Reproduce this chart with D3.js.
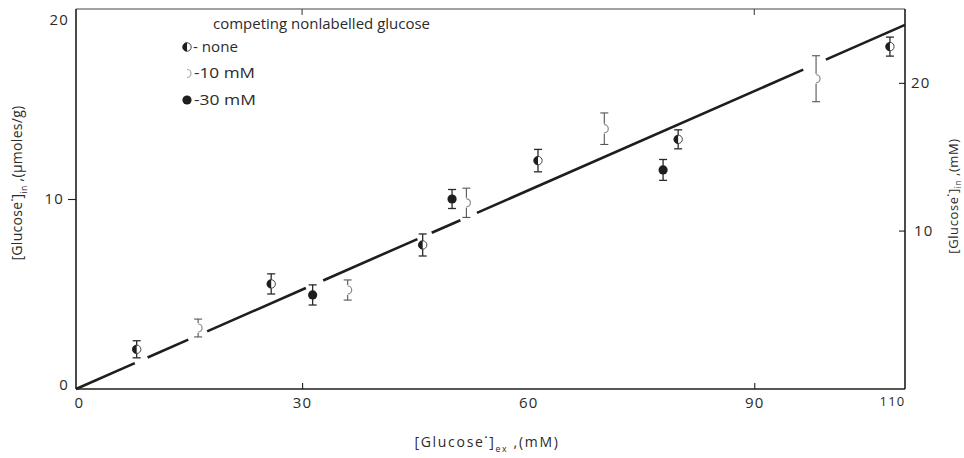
<!DOCTYPE html>
<html>
<head>
<meta charset="utf-8">
<script src="https://cdn.jsdelivr.net/npm/d3@7"></script>
<style>
  html, body { margin: 0; padding: 0; background: #fff; }
  svg { display: block; }
  text { font-family: "Open Sans", "DejaVu Sans", sans-serif; fill: #2b2b2b; }
</style>
</head>
<body>
<svg id="chart" width="964" height="458"></svg>
<script>
// Axis ticks
const xTicks = [0, 30, 60, 90, 110];
const yTicksLeft = [0, 10, 20];
const yTicksRight = [10, 20];

// Intracellular vs extracellular labelled glucose, by competing nonlabelled glucose
const noneX   = [8.05, 25.9, 46.0, 61.3, 79.9, 108.0];
const noneY   = [2.09, 5.53, 7.58, 12.02, 13.14, 18.02];
const noneErr = [0.45, 0.53, 0.58, 0.59, 0.50, 0.50];

const mM10X   = [16.2, 36.05, 51.8, 70.1, 98.2];
const mM10Y   = [3.21, 5.21, 9.80, 13.70, 16.33];
const mM10Err = [0.47, 0.53, 0.77, 0.83, 1.21];

const mM30X   = [31.4, 49.9, 77.9];
const mM30Y   = [4.95, 10.00, 11.53];
const mM30Err = [0.53, 0.50, 0.55];

// Fitted line through the origin, and where the drawn line is broken around markers
const fitSlope = 0.1742;
const fitXMax = 110;
const fitGaps = [[7.8, 9.5], [14.9, 17.4], [30.5, 32.8], [45.3, 47.2], [51.0, 53.2], [96.5, 99.5]];

const svg = d3.select("#chart");
const ink = "#1e1e1e";

const x  = d3.scaleLinear().domain([0, 110]).range([76, 905]);
const yL = d3.scaleLinear().domain([0, 20]).range([389, 9]);
const yR = d3.scaleLinear().domain([0, 25]).range([378.3, 9]);

// ---- frame ----
const frame = svg.append("g").attr("fill", "none");
frame.append("line").attr("x1", x(0)).attr("x2", x(110)).attr("y1", yL(20)).attr("y2", yL(20))
  .attr("stroke", "#444").attr("stroke-width", 1.2);
frame.append("line").attr("x1", x(0)).attr("x2", x(110)).attr("y1", yL(0)).attr("y2", yL(0))
  .attr("stroke", ink).attr("stroke-width", 1.6);
frame.append("line").attr("x1", x(0)).attr("x2", x(0)).attr("y1", yL(0)).attr("y2", yL(20))
  .attr("stroke", ink).attr("stroke-width", 1.6);
frame.append("line").attr("x1", x(110)).attr("x2", x(110)).attr("y1", yL(0)).attr("y2", yL(20))
  .attr("stroke", ink).attr("stroke-width", 1.6);

// small inward ticks on the top edge
[30, 90].forEach(v => {
  frame.append("line").attr("x1", x(v)).attr("x2", x(v)).attr("y1", yL(20)).attr("y2", yL(20) + 6)
    .attr("stroke", "#444").attr("stroke-width", 1.1);
});

// ---- bottom axis ----
const gx = svg.append("g").attr("transform", `translate(0,${yL(0)})`)
  .call(d3.axisBottom(x).tickValues(xTicks).tickSizeInner(-6).tickSizeOuter(0).tickPadding(8)
    .tickFormat(d3.format("d")));
gx.select(".domain").remove();
gx.selectAll(".tick line").attr("stroke", ink).attr("stroke-width", 1.1)
  .attr("opacity", d => (d === 30 || d === 90) ? 1 : 0);
gx.selectAll(".tick text")
  .attr("letter-spacing", 1.2)
  .attr("font-family", "'Open Sans', sans-serif")
  .attr("dx", d => d === 0 ? 3 : (d === 110 ? -13 : 0))
  .attr("fill", d => d === 110 ? "#888" : "#333")
  .attr("font-size", d => d === 110 ? 13 : 15);

// ---- left axis ----
const gyL = svg.append("g").attr("transform", `translate(${x(0)},0)`)
  .call(d3.axisLeft(yL).tickValues(yTicksLeft).tickSizeInner(8).tickSizeOuter(0).tickPadding(3)
    .tickFormat(d3.format("d")));
gyL.select(".domain").remove();
gyL.selectAll(".tick line").attr("stroke", ink).attr("stroke-width", 1.1)
  .attr("opacity", d => d === 10 ? 1 : 0);
gyL.selectAll(".tick text")
  .attr("font-size", 15).attr("letter-spacing", 1.2)
  .attr("font-family", "'Open Sans', sans-serif").attr("fill", "#333")
  .attr("dx", d => d === 10 ? -1 : 4)
  .attr("dy", d => d === 20 ? "1.0em" : (d === 0 ? "0.0em" : "0.32em"));

// ---- right axis ----
const gyR = svg.append("g").attr("transform", `translate(${x(110)},0)`)
  .call(d3.axisRight(yR).tickValues(yTicksRight).tickSizeInner(-6).tickSizeOuter(0).tickPadding(6)
    .tickFormat(d3.format("d")));
gyR.select(".domain").remove();
gyR.selectAll(".tick line").attr("stroke", ink).attr("stroke-width", 1.1);
gyR.selectAll(".tick text")
  .attr("font-size", 15).attr("letter-spacing", 1.2)
  .attr("font-family", "'Open Sans', sans-serif").attr("fill", "#444")
  .attr("dx", d => d === 10 ? 3 : 0);

// ---- fitted line, drawn as pieces between the gaps ----
const pieces = [];
let from = 0;
fitGaps.forEach(([a, b]) => { pieces.push([from, a]); from = b; });
pieces.push([from, fitXMax]);
svg.append("g").selectAll("line").data(pieces).join("line")
  .attr("x1", d => x(d[0])).attr("y1", d => yL(fitSlope * d[0]))
  .attr("x2", d => x(d[1])).attr("y2", d => yL(fitSlope * d[1]))
  .attr("stroke", ink).attr("stroke-width", 2.6).attr("stroke-linecap", "butt");

// ---- error bars ----
function errorBars(xs, ys, es, colour, width) {
  const g = svg.append("g").attr("stroke", colour).attr("stroke-width", width).attr("fill", "none");
  xs.forEach((xv, i) => {
    const cx = x(xv), top = yL(ys[i] + es[i]), bot = yL(ys[i] - es[i]);
    g.append("line").attr("x1", cx).attr("x2", cx).attr("y1", top).attr("y2", bot);
    g.append("line").attr("x1", cx - 4).attr("x2", cx + 4).attr("y1", top).attr("y2", top);
    g.append("line").attr("x1", cx - 4).attr("x2", cx + 4).attr("y1", bot).attr("y2", bot);
  });
}
errorBars(noneX, noneY, noneErr, "#2a2a2a", 1.3);
errorBars(mM10X, mM10Y, mM10Err, "#555", 1.1);
errorBars(mM30X, mM30Y, mM30Err, "#2a2a2a", 1.3);

// ---- marker shapes ----
const leftHalf = d3.arc().innerRadius(0).outerRadius(4.4).startAngle(Math.PI).endAngle(2 * Math.PI);

function halfMarker(g, cx, cy) {
  g.append("circle").attr("cx", cx).attr("cy", cy).attr("r", 4.2)
    .attr("fill", "#fff").attr("stroke", "#444").attr("stroke-width", 1);
  g.append("path").attr("d", leftHalf()).attr("transform", `translate(${cx},${cy})`).attr("fill", ink);
}
function openMarker(g, cx, cy, colour) {
  g.append("circle").attr("cx", cx).attr("cy", cy).attr("r", 5).attr("fill", "#fff");
  const p = d3.path();
  p.arc(cx, cy, 4, -Math.PI / 2, Math.PI / 2);
  g.append("path").attr("d", p.toString()).attr("fill", "none")
    .attr("stroke", colour).attr("stroke-width", 1.2);
}
function solidMarker(g, cx, cy) {
  g.append("circle").attr("cx", cx).attr("cy", cy).attr("r", 4.6).attr("fill", ink);
}

const marks = svg.append("g");
noneX.forEach((v, i) => halfMarker(marks, x(v), yL(noneY[i])));
mM10X.forEach((v, i) => openMarker(marks, x(v), yL(mM10Y[i]), "#888"));
mM30X.forEach((v, i) => solidMarker(marks, x(v), yL(mM30Y[i])));

// ---- legend ----
const leg = svg.append("g");
leg.append("text").attr("x", 213).attr("y", 29).attr("font-size", 14)
  .attr("textLength", 217).attr("lengthAdjust", "spacingAndGlyphs")
  .text("competing nonlabelled glucose");
halfMarker(leg, 187, 47);
openMarker(leg, 187, 73.5, "#aaa");
solidMarker(leg, 187, 100);
leg.append("text").attr("x", 193).attr("y", 52).attr("font-size", 14)
  .attr("textLength", 45).attr("lengthAdjust", "spacingAndGlyphs").text("- none");
leg.append("text").attr("x", 194).attr("y", 78).attr("font-size", 14)
  .attr("textLength", 61).attr("lengthAdjust", "spacingAndGlyphs").text("-10 mM");
leg.append("text").attr("x", 194).attr("y", 104.5).attr("font-size", 14)
  .attr("textLength", 62).attr("lengthAdjust", "spacingAndGlyphs").text("-30 mM");

// ---- axis titles ----
function glucoseTitle(t, sub, unit, lift) {
  t.append("tspan").text("[Glucose");
  t.append("tspan").attr("dy", -7).attr("font-size", "0.55em").text("•");
  t.append("tspan").attr("dy", 7).text("]");
  t.append("tspan").attr("dy", lift).attr("font-size", "0.62em").text(sub);
  t.append("tspan").attr("dy", -lift).text(" ," + unit);
}

const xt = svg.append("text").attr("x", 487).attr("y", 447).attr("text-anchor", "middle")
  .attr("font-size", 14).attr("letter-spacing", 1.7).attr("fill", "#333")
  .attr("font-family", "'DejaVu Sans', sans-serif");
glucoseTitle(xt, "ex", "(mM)", 5);

const ylt = svg.append("text").attr("transform", "translate(22,183) rotate(-90)")
  .attr("text-anchor", "middle").attr("font-size", 14).attr("letter-spacing", 0.3).attr("fill", "#333");
glucoseTitle(ylt, "in", "(µmoles/g)", 5);

const yrt = svg.append("text").attr("transform", "translate(958,196) rotate(-90)")
  .attr("text-anchor", "middle").attr("font-size", 13).attr("letter-spacing", 0.6).attr("fill", "#444");
glucoseTitle(yrt, "in", "(mM)", 3);
</script>
</body>
</html>
